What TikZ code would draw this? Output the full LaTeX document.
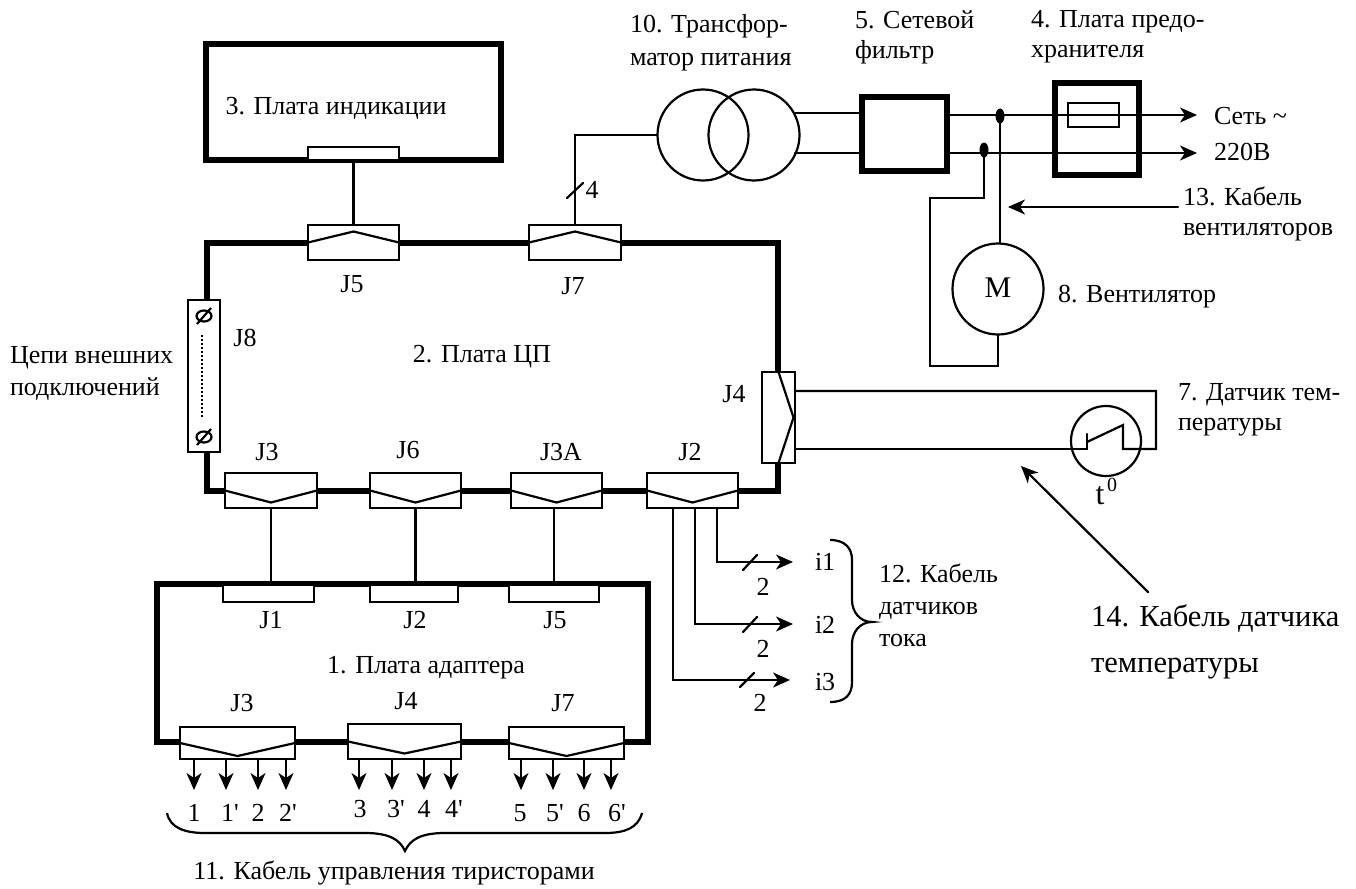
\documentclass[tikz,border=0pt]{standalone}
\usepackage{fontspec}
\setmainfont{Liberation Serif}
\usetikzlibrary{arrows.meta,calc,shapes.geometric}
\tikzset{
  wire/.style={line width=2.2pt,line cap=round,line join=miter},
  arr/.style={wire,-{Stealth[length=17pt,width=15pt,inset=5pt]}},
  board/.style={draw,line width=5.5pt,rectangle,inner sep=0,outer sep=0},
  plug/.style={draw,line width=2.2pt,fill=white,rectangle,inner sep=0,outer sep=0},
  zig/.style={line width=2.2pt,line join=miter},
  lab/.style={inner sep=0,outer sep=0,font=\fontsize{26}{31}\selectfont,align=left},
  big/.style={inner sep=0,outer sep=0,font=\fontsize{30.5}{46}\selectfont,align=left},
  dot/.style={fill=black,ellipse,inner sep=0,minimum width=9pt,minimum height=15pt},
}
% name, x1, y1, x2, y2, style
\newcommand{\rectnode}[6]{%
  \pgfmathsetmacro{\rw}{#4-#2}\pgfmathsetmacro{\rh}{#5-#3}%
  \pgfmathsetmacro{\rx}{(#2+#4)/2}\pgfmathsetmacro{\ry}{(#3+#5)/2}%
  \node[#6,minimum width=\rw pt,minimum height=\rh pt] (#1) at (\rx,\ry) {};}
\begin{document}
\begin{tikzpicture}[x=1pt,y=-1pt]
\useasboundingbox (0,0) rectangle (1356,888);
% boards
\rectnode{ind}{206}{44}{501}{160}{board}
\rectnode{cpu}{207}{243}{778}{491}{board}
\rectnode{adp}{157}{584}{648}{742}{board}
\rectnode{flt}{862}{97}{947}{171}{board}
\rectnode{fus}{1055}{83}{1139}{175}{board}
% plugs of the CPU board
\rectnode{indc}{308}{147}{399}{160}{plug}
\rectnode{j5}{308}{225}{399}{260}{plug}
\rectnode{j7}{529}{225}{621}{260}{plug}
\rectnode{j8}{188}{300}{220}{452}{plug}
\rectnode{j3}{225}{473}{317}{508}{plug}
\rectnode{j6}{370}{473}{461}{508}{plug}
\rectnode{j3a}{511}{473}{602}{508}{plug}
\rectnode{j2}{647}{473}{738}{508}{plug}
\rectnode{j4}{762}{372}{795}{463}{plug}
% plugs of the adapter board
\rectnode{a1}{223}{585}{314}{602}{plug}
\rectnode{a2}{370}{585}{458}{602}{plug}
\rectnode{a5}{509}{585}{599}{602}{plug}
\rectnode{a3}{180}{727}{295}{759}{plug}
\rectnode{a4}{348}{724}{461}{759}{plug}
\rectnode{a7}{509}{727}{624}{759}{plug}
% zigzags
\draw[zig] (j5.west) -- ([yshift=11pt]j5.center) -- (j5.east);
\draw[zig] (j7.west) -- ([yshift=11pt]j7.center) -- (j7.east);
\draw[zig] (j3.west) -- ([yshift=-12pt]j3.center) -- (j3.east);
\draw[zig] (j6.west) -- ([yshift=-12pt]j6.center) -- (j6.east);
\draw[zig] (j3a.west) -- ([yshift=-12pt]j3a.center) -- (j3a.east);
\draw[zig] (j2.west) -- ([yshift=-12pt]j2.center) -- (j2.east);
\draw[zig] (a3.west) -- ([yshift=-13pt]a3.center) -- (a3.east);
\draw[zig] (a4.west) -- ([yshift=-12pt]a4.center) -- (a4.east);
\draw[zig] (a7.west) -- ([yshift=-13pt]a7.center) -- (a7.east);
\draw[zig] (j4.north) -- ([xshift=15pt]j4.center) -- (j4.south);
% J8 screws
\node[draw,line width=2.2pt,ellipse,inner sep=0,minimum width=15pt,minimum height=11pt] (s1) at (204,316) {};
\node[draw,line width=2.2pt,ellipse,inner sep=0,minimum width=15pt,minimum height=11pt] (s2) at (204,437) {};
\draw[line width=2.2pt] ([shift={(-7pt,-8pt)}]s1.center) -- ([shift={(7pt,8pt)}]s1.center);
\draw[line width=2.2pt] ([shift={(-7pt,-8pt)}]s2.center) -- ([shift={(7pt,8pt)}]s2.center);
\draw[line width=2.6pt,dash pattern=on 2pt off 2pt] (202,335) -- (202,417);
% board links
\draw[wire] (indc.south) -- (j5.north);
\draw[wire] (j3.south) -- (j3.south |- a1.north);
\draw[wire] (j6.south) -- (j6.south |- a2.north);
\draw[wire] (554,585) -- (554,508);
% J2 outputs
\coordinate (i1) at (793,562); \coordinate (i2) at (793,624); \coordinate (i3) at (790,680);
\draw[arr] (717,508) -- (717,562) -- (i1);
\draw[arr] (695,508) -- (695,624) -- (i2);
\draw[arr] (673,508) -- (673,680) -- (i3);
\draw[wire] (743,570) -- (757,555);
\draw[wire] (743,632) -- (757,617);
\draw[wire] (740,687) -- (754,673);
% adapter arrows
\foreach \x in {194,226,258,286,521,553,584,611} \draw[arr] (\x,759) -- (\x,790);
\foreach \x in {359,392,424,451} \draw[arr] (\x,759) -- (\x,790);
% transformer
\node[draw,line width=2.2pt,circle,inner sep=0,minimum size=91pt] (t1) at (703,135) {};
\node[draw,line width=2.2pt,circle,inner sep=0,minimum size=91pt] (t2) at (754,135) {};
\draw[wire] (j7.north) -- (575,135) -- (t1.west);
\draw[wire] (567,198) -- (583,183);
\draw[wire] (795,113) -- (flt.west |- 0,113);
\draw[wire] (795,153) -- (flt.west |- 0,153);
% fuse and mains
\coordinate (m1) at (1197,115); \coordinate (m2) at (1197,153);
\draw[arr] (flt.east |- m1) -- (m1);
\draw[arr] (flt.east |- m2) -- (m2);
\rectnode{fz}{1068}{103}{1119}{127}{draw,line width=2.2pt,rectangle,inner sep=0,outer sep=0}
\node[dot] (d1) at (1000,116) {};
\node[dot] (d2) at (984,150) {};
% fan
\node[draw,line width=2.2pt,circle,inner sep=0,minimum size=91pt] (fan) at (998,289) {};
\draw[wire] (d1.center) -- (fan.north -| d1.center);
\draw[wire] (d2.center) -- (984,198) -- (930,198) -- (930,366) -- (998,366) -- (fan.south);
\coordinate (c13a) at (1178,207); \coordinate (c13b) at (1008,207);
\draw[arr] (c13a) -- (c13b);
% temperature sensor
\node[draw,line width=2.2pt,circle,inner sep=0,minimum size=70pt] (ts) at (1106,441) {};
\draw[wire] (j4.east |- 0,391) -- (1156,391) -- (1156,449) -- (1123,449) -- (1123,425) -- (1087,442);
\draw[wire] (j4.east |- 0,449) -- (1087,449) -- (1087,434);
\coordinate (c14a) at (1148,592); \coordinate (c14b) at (1021,466);
\draw[arr] (c14a) -- (c14b);
% braces
\draw[line width=2.2pt] (167,813) .. controls (170,828) and (185,833) .. (205,833) -- (365,833) .. controls (390,833) and (400,840) .. (405,851) .. controls (410,840) and (420,833) .. (445,833) -- (605,833) .. controls (625,833) and (638,828) .. (642,813);
\draw[line width=2.2pt] (830,540) .. controls (845,540) and (852,548) .. (852,560) -- (852,600) .. controls (852,612) and (860,622) .. (872,622) .. controls (860,622) and (852,632) .. (852,644) -- (852,682) .. controls (852,695) and (845,702) .. (830,702);
% labels
\node[lab] (l3) at (336,108) {3. Плата индикации};
\node[lab] (l2) at (482,357) {2. Плата ЦП};
\node[lab] (l1) at (426,668) {1. Плата адаптера};
\node[lab] (lj5) at (352,284) {J5};
\node[lab] (lj7) at (573,286) {J7};
\node[lab] (lj8) at (245,338) {J8};
\node[lab] (lj3) at (267,452) {J3};
\node[lab] (lj6) at (408,450) {J6};
\node[lab] (lj3a) at (561,452) {J3A};
\node[lab] (lj2) at (690,452) {J2};
\node[lab] (lj4) at (734,394) {J4};
\node[lab] (la1) at (271,620) {J1};
\node[lab] (la2) at (415,620) {J2};
\node[lab] (la5) at (555,620) {J5};
\node[lab] (la3) at (242,703) {J3};
\node[lab] (la4) at (406,701) {J4};
\node[lab] (la7) at (563,703) {J7};
\node[lab,anchor=west,font=\fontsize{26}{32}\selectfont] (lext) at (10,373) {Цепи внешних\\подключений};
\node[lab] (l4w) at (592,190) {4};
\node[lab,anchor=west,font=\fontsize{26}{33}\selectfont] (l10) at (630,43) {10. Трансфор-\\матор питания};
\node[lab,anchor=west,font=\fontsize{26}{30}\selectfont] (l5) at (855,37) {5. Сетевой\\фильтр};
\node[lab,anchor=west,font=\fontsize{26}{30}\selectfont] (l4) at (1031,37) {4. Плата предо-\\хранителя};
\node[lab,anchor=west,font=\fontsize{26}{36}\selectfont] (lnet) at (1214,134) {Сеть \textasciitilde\\220В};
\node[lab,anchor=west,font=\fontsize{26}{30}\selectfont] (l13) at (1183,214) {13. Кабель\\вентиляторов};
\node[lab,font=\fontsize{30}{32}\selectfont] (lm) at (998,288) {М};
\node[lab,anchor=west] (l8) at (1058,297) {8. Вентилятор};
\node[lab,anchor=west,font=\fontsize{26}{30}\selectfont] (l7) at (1178,410) {7. Датчик тем-\\пературы};
\node[lab,font=\fontsize{32}{34}\selectfont] (lt) at (1100,496) {t};
\node[lab,font=\fontsize{20}{22}\selectfont] (lt0) at (1112,485) {0};
\node[lab,anchor=west] (li1) at (815,562) {i1};
\node[lab,anchor=west] (li2) at (815,625) {i2};
\node[lab,anchor=west] (li3) at (815,682) {i3};
\node[lab] (n1) at (763,587) {2};
\node[lab] (n2) at (763,649) {2};
\node[lab] (n3) at (760,703) {2};
\node[lab,anchor=west,font=\fontsize{26}{32}\selectfont] (l12) at (879,605) {12. Кабель\\датчиков\\тока};
\node[big,anchor=west] (l14) at (1091,642) {14. Кабель датчика\\температуры};
\foreach \n/\t/\x/\y in {b1/1/194/813,b2/1\textquotesingle/230/813,b3/2/258/813,b4/2\textquotesingle/288/813,b5/3/360/809,b6/3\textquotesingle/396/809,b7/4/424/809,b8/4\textquotesingle/454/809,b9/5/520/813,b10/5\textquotesingle/555/813,b11/6/584/813,b12/6\textquotesingle/617/813}
  \node[lab] (\n) at (\x,\y) {\t};
\node[lab] (l11) at (394,873) {11. Кабель управления тиристорами};
\end{tikzpicture}
\end{document}
